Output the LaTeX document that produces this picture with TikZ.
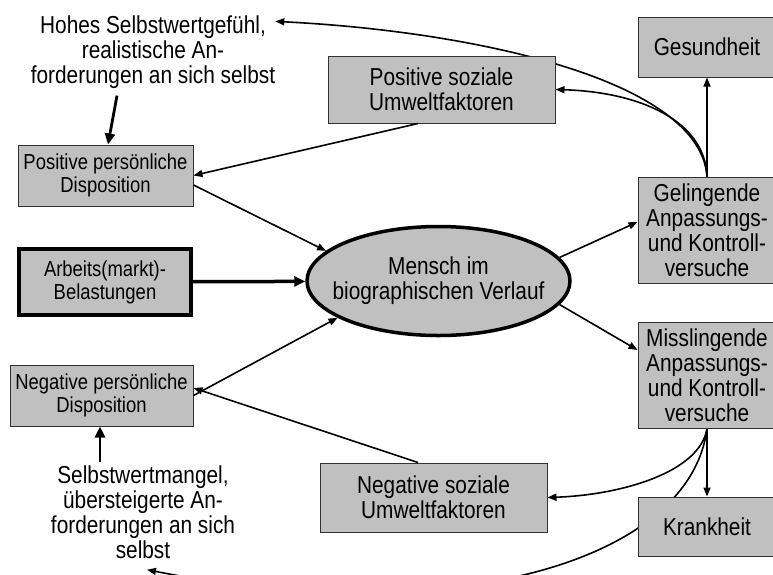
\documentclass[tikz,border=0pt]{standalone}
\usepackage{fontspec}
\setmainfont{Liberation Sans}[FakeStretch=0.85]
\usetikzlibrary{arrows.meta,shapes.geometric,backgrounds,positioning}
\definecolor{boxgray}{RGB}{192,192,192}
\definecolor{rimgray}{RGB}{50,50,50}
\newcommand\mainsize{\fontsize{24.5}{25}\selectfont}
\newcommand\smallsize{\fontsize{21.7}{23}\selectfont}

\begin{document}
\begin{tikzpicture}[x=1pt,y=-1pt,
    box/.style={draw=rimgray, fill=boxgray, line width=1pt, align=center,
      inner sep=0pt, font=\mainsize, minimum width=138pt},
    smallbox/.style={box, font=\smallsize},
    person/.style={ellipse, draw, fill=boxgray, line width=3.5pt, align=center,
      inner xsep=-25pt, inner ysep=0pt, font=\mainsize,
      minimum width=263pt, minimum height=109pt},
    txt/.style={align=center, inner sep=0pt, font=\mainsize},
    arr/.style={-{Triangle[length=9pt,width=7pt]}, line width=1.6pt},
    thickarr/.style={-{Triangle[length=11pt,width=10pt]}, line width=2.8pt}
  ]
  \useasboundingbox (0,0) rectangle (773,574);
  % Define nodes
  \node[person] (person) at (438.5,281) {Mensch im\\biographischen Verlauf};
  \node[smallbox, minimum width=175pt, minimum height=61pt] (pospers) at (105.5,175.5)
    {Positive persönliche\\Disposition};
  \node[smallbox, draw=black, line width=3.5pt, minimum width=172pt, minimum height=66pt]
    (arbeits) at (105,282) {Arbeits(markt)-\\Belastungen};
  \node[smallbox, minimum width=183pt, minimum height=61pt] (negpers) at (101.5,395.5)
    {Negative persönliche\\Disposition};
  \node[box, minimum width=227pt, minimum height=67pt] (possoz) at (441.5,89.5)
    {Positive soziale\\Umweltfaktoren};
  \node[box, minimum width=227pt, minimum height=69pt] (negsoz) at (433.5,497.5)
    {Negative soziale\\Umweltfaktoren};
  \node[box, minimum height=60pt] (ges) at (707,47) {Gesundheit};
  \node[box, minimum height=106pt, below=99pt of ges] (gel)
    {Gelingende\\Anpassungs-\\und Kontroll-\\versuche};
  \node[box, minimum height=106pt, below=38pt of gel] (missl)
    {Misslingende\\Anpassungs-\\und Kontroll-\\versuche};
  \node[box, minimum height=59pt, below=68pt of missl] (krank) {Krankheit};
  \node[txt] (hohes) at (153,52)
    {Hohes Selbstwertgefühl,\\realistische An-\\forderungen an sich selbst};
  \node[txt] (selbst) at (143,512)
    {Selbstwertmangel,\\übersteigerte An-\\forderungen an sich\\selbst};
  % Connect nodes
  \draw[thickarr] ([xshift=-36pt,yshift=-7pt]hohes.south) -- ([xshift=2.5pt]pospers.north);
  \draw[thickarr] ([xshift=-43pt,yshift=3pt]selbst.north) -- ([xshift=-1.5pt]negpers.south);
  \draw[arr] ([xshift=-23.5pt]possoz.south) -- (pospers.east);
  \draw[arr] ([yshift=-9.5pt]pospers.east) -- (person.165);
  \draw[thickarr, line width=3.5pt] (arbeits) -- (person);
  \draw[arr] (negpers.east) -- (person.200);
  \draw[arr] ([xshift=-15.5pt]negsoz.north) -- ([yshift=7.5pt]negpers.east);
  \draw[arr] (person.11) -- ([yshift=8pt]gel.west);
  \draw[arr] (person.-11) -- ([yshift=25pt]missl.west);
  \draw[arr] (gel) -- (ges);
  \draw[arr] (missl) -- (krank);
  \begin{scope}[on background layer]
    \clip (0,0) rectangle (773,574);
    \draw[arr] (gel.north) .. controls +(-7,-96) and +(201,10) .. ([yshift=-6pt]hohes.north east);
    \draw[arr] (gel.north) .. controls +(-2,-56) and +(84,2.5) .. (possoz.east);
    \draw[arr] (missl.south) .. controls +(-7,44) and +(73,-2.5) .. (negsoz.east);
    \draw[arr] (missl.south) .. controls +(-17,134) and +(303,60) .. ([xshift=4pt,yshift=-11pt]selbst.south);
  \end{scope}
\end{tikzpicture}
\end{document}
